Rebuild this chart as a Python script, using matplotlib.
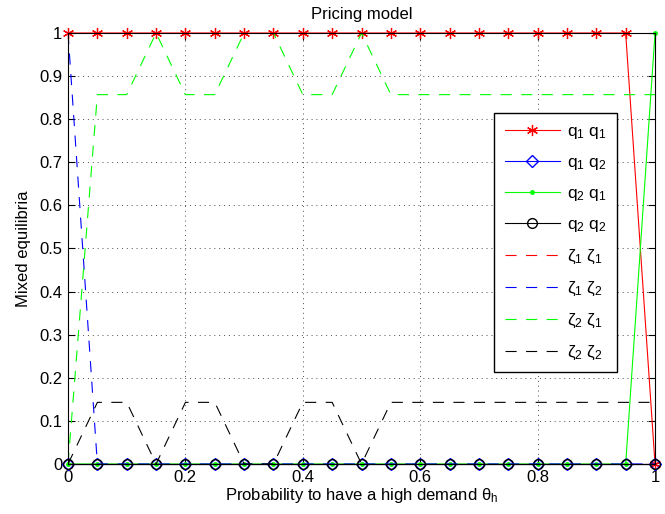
import matplotlib
matplotlib.use('Agg')
import numpy as np
import matplotlib.pyplot as plt

# data
theta = [0, 0.05, 0.1, 0.15, 0.2, 0.25, 0.3, 0.35, 0.4, 0.45, 0.5,
         0.55, 0.6, 0.65, 0.7, 0.75, 0.8, 0.85, 0.9, 0.95, 1.0]
q1q1 = [1] * 20 + [0]
q1q2 = [0] * 21
q2q1 = [0] * 20 + [1]
q2q2 = [0] * 21
z1z1 = [0] * 21
z1z2 = [1] + [0] * 20
z2z1 = [0, 0.857, 0.857, 1, 0.857, 0.857, 1, 1, 0.857, 0.857, 1,
        0.857, 0.857, 0.857, 0.857, 0.857, 0.857, 0.857, 0.857, 0.857, 0.857]
z2z2 = [0, 0.143, 0.143, 0, 0.143, 0.143, 0, 0, 0.143, 0.143, 0,
        0.143, 0.143, 0.143, 0.143, 0.143, 0.143, 0.143, 0.143, 0.143, 0.143]

plt.rcParams['font.family'] = ['Liberation Sans', 'DejaVu Sans']
plt.rcParams['mathtext.fontset'] = 'custom'
plt.rcParams['mathtext.rm'] = 'Liberation Sans'
plt.rcParams['mathtext.it'] = 'Liberation Sans'
plt.rcParams['font.size'] = 12

fig = plt.figure(figsize=(6.65, 5.14), dpi=100)
ax = fig.add_axes([0.1023, 0.0973, 0.8827, 0.8385])

lw = 0.8
dash = (0, (10, 8.5))
green = '#00ff00'
asterisk = (6, 2, 0)
ax.plot(theta, q1q1, color='r', lw=lw, marker=asterisk, ms=8, mew=0.9, clip_on=False, label=r'$q_1\ q_1$')
ax.plot(theta, q1q2, color='b', lw=lw, marker='D', ms=6, mfc='none', mew=1, clip_on=False, label=r'$q_1\ q_2$')
ax.plot(theta, q2q1, color=green, lw=lw, marker='.', ms=5, clip_on=False, label=r'$q_2\ q_1$')
ax.plot(theta, q2q2, color='k', lw=lw, marker='o', ms=7, mfc='none', mew=1, clip_on=False, label=r'$q_2\ q_2$')
ax.plot(theta, z1z1, color='r', lw=lw, ls=dash, label=r'$\zeta_1\ \zeta_1$')
ax.plot(theta, z1z2, color='b', lw=lw, ls=dash, label=r'$\zeta_1\ \zeta_2$')
ax.plot(theta, z2z1, color=green, lw=lw, ls=dash, label=r'$\zeta_2\ \zeta_1$')
ax.plot(theta, z2z2, color='k', lw=lw, ls=dash, label=r'$\zeta_2\ \zeta_2$')

ax.set_xlim(0, 1)
ax.set_ylim(0, 1)
ax.set_xticks([0, 0.2, 0.4, 0.6, 0.8, 1])
ax.set_xticklabels(['0', '0.2', '0.4', '0.6', '0.8', '1'])
ax.set_yticks(np.round(np.arange(0, 1.01, 0.1), 1))
ax.set_yticklabels(['0'] + ['%.1f' % v for v in np.arange(0.1, 0.95, 0.1)] + ['1'])
ax.tick_params(direction='in', top=True, right=True, length=5, width=0.8, pad=4)
ax.grid(True, ls=(0, (1, 4)), color='k', lw=0.7, alpha=0.7)
for s in ax.spines.values():
    s.set_linewidth(0.8)

ax.set_title('Pricing model', fontsize=12, pad=10)
ax.set_xlabel(r'Probability to have a high demand $\theta_h$', labelpad=1)
ax.set_ylabel('Mixed equilibria', labelpad=6)

leg = ax.legend(loc='upper left', bbox_to_anchor=(0.726, 0.814), fancybox=False,
                edgecolor='k', framealpha=1, numpoints=1, handlelength=3.2,
                labelspacing=0.8, borderpad=0.6, handletextpad=0.4,
                borderaxespad=0, fontsize=12.5)
leg.get_frame().set_linewidth(1.0)

fig.savefig('out.png', dpi=100)
